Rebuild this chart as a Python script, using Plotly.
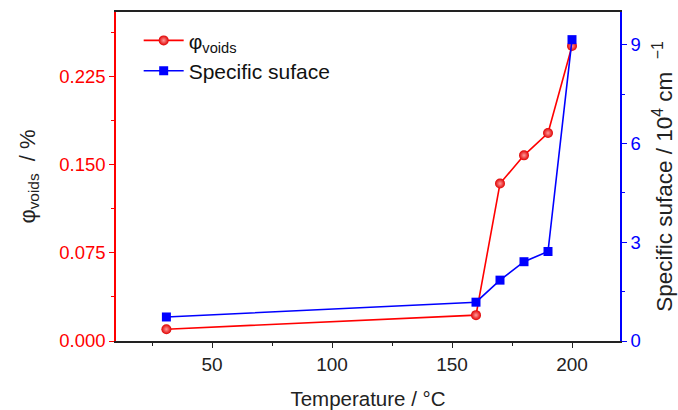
import plotly.graph_objects as go

# Measured data
temperature = [31, 160, 170, 180, 190, 200]
phi_voids = [0.010, 0.022, 0.134, 0.158, 0.177, 0.251]          # %
specific_surface = [0.73, 1.18, 1.85, 2.41, 2.72, 9.16]        # 10^4 cm^-1

RED = "#ff0000"
BLUE = "#0000ff"
INK = "#222222"
FONT = "Arial, Liberation Sans, sans-serif"
NB = "\u00a0"

fig = go.Figure()

fig.add_trace(go.Scatter(
    x=temperature, y=phi_voids, name="φ<sub>voids</sub>",
    mode="lines+markers", yaxis="y",
    line=dict(color=RED, width=1.6),
    marker=dict(symbol="circle", size=10, color="#e00000",
                gradient=dict(type="radial", color="#ff9a9a"),
                line=dict(width=0)),
))

fig.add_trace(go.Scatter(
    x=temperature, y=specific_surface, name="Specific suface",
    mode="lines+markers", yaxis="y2",
    line=dict(color=BLUE, width=1.6),
    marker=dict(symbol="square", size=9, color=BLUE, line=dict(width=0)),
))

fig.update_layout(
    width=678, height=410,
    margin=dict(l=116, r=58, t=12, b=69),
    paper_bgcolor="white", plot_bgcolor="white",
    font=dict(family=FONT, size=19, color=INK),
    showlegend=True,
    legend=dict(x=0.045, y=0.975, xanchor="left", yanchor="top",
                bgcolor="rgba(0,0,0,0)", borderwidth=0,
                font=dict(size=21, color="#111111"),
                itemwidth=40, tracegroupgap=0),
    xaxis=dict(
        range=[10, 220], tickmode="linear", tick0=0, dtick=50,
        automargin=False,
        ticks="outside", ticklen=5, tickwidth=1.3, tickcolor=INK,
        minor=dict(dtick=25, ticks="outside", ticklen=3, tickcolor=INK),
        showline=True, linecolor=INK, linewidth=1.5, mirror=True,
        showgrid=False, zeroline=False,
        title=dict(text="Temperature / °C", standoff=18,
                   font=dict(size=20.5, color=INK)),
        tickfont=dict(size=19, color=INK),
    ),
    yaxis=dict(
        range=[0, 0.28], tickmode="linear", tick0=0, dtick=0.075,
        tickformat=".3f", automargin=False,
        ticks="outside", ticklen=5, tickwidth=1.3, tickcolor=RED,
        minor=dict(dtick=0.0375, ticks="outside", ticklen=3, tickcolor=RED),
        showline=True, linecolor=RED, linewidth=1.5,
        showgrid=False, zeroline=False,
        tickfont=dict(size=18.5, color=RED),
        title=dict(text=f"φ<sub>voids</sub>{NB}{NB}/{NB}%", standoff=18,
                   font=dict(size=22, color=INK)),
    ),
    yaxis2=dict(
        range=[0, 10], tickmode="linear", tick0=0, dtick=3,
        overlaying="y", side="right", automargin=False,
        ticks="outside", ticklen=5, tickwidth=1.3, tickcolor=BLUE,
        minor=dict(dtick=1.5, ticks="outside", ticklen=3, tickcolor=BLUE),
        showline=True, linecolor=BLUE, linewidth=1.5,
        showgrid=False, zeroline=False,
        tickfont=dict(size=18.5, color=BLUE),
        title=dict(text=f"Specific suface / 10<sup>4</sup> cm{NB}{NB}<sup>−1</sup>",
                   standoff=17, font=dict(size=22.5, color=INK)),
    ),
)

fig.write_html("out.html")
